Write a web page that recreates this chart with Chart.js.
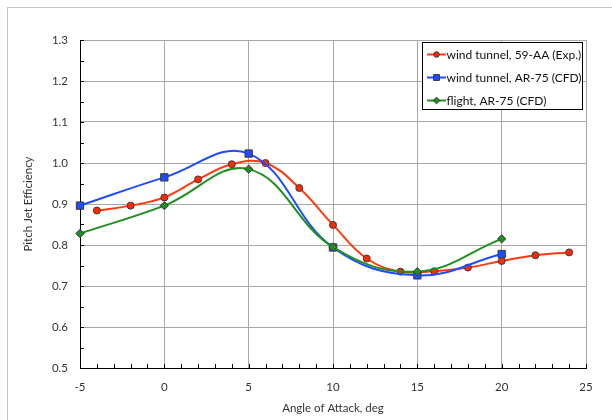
<!DOCTYPE html>
<html>
<head>
  <script src="https://cdn.jsdelivr.net/npm/chart.js"></script>
  <style>
    body { margin: 0; background: #fff; }
    #wrap { width: 612px; height: 420px; position: relative; }
  </style>
</head>
<body>
  <div id="wrap"><canvas id="jetChart" width="612" height="420"></canvas></div>
  <script>
    // data
    const expAngles = [-4, -2, 0, 2, 4, 6, 8, 10, 12, 14, 16, 18, 20, 22, 24];
    const expValues = [0.884, 0.896, 0.916, 0.960, 0.997, 1.000, 0.939, 0.849, 0.767, 0.735, 0.736, 0.745, 0.761, 0.775, 0.782];
    const cfdAngles = [-5, 0, 5, 10, 15, 20];
    const tunnelCfdValues = [0.896, 0.965, 1.023, 0.794, 0.726, 0.778];
    const flightCfdValues = [0.828, 0.896, 0.985, 0.795, 0.735, 0.815];
    const seriesNames = ['wind tunnel, 59-AA (Exp.)', 'wind tunnel, AR-75 (CFD)', 'flight, AR-75 (CFD)'];
    const xTickValues = [-5, 0, 5, 10, 15, 20, 25];
    const yTickValues = [0.5, 0.6, 0.7, 0.8, 0.9, 1.0, 1.1, 1.2, 1.3];

    const toPoints = (xs, ys) => xs.map((x, i) => ({ x: x, y: ys[i] }));
    const FONT = 'Lato';

    // light frame round the whole chart (runs off right/bottom like the original)
    const framePlugin = {
      id: 'frame',
      beforeDraw(chart) {
        const ctx = chart.ctx;
        ctx.save();
        ctx.strokeStyle = '#c4c4c4';
        ctx.lineWidth = 1;
        ctx.strokeRect(7.5, 7.5, 700, 500);
        ctx.restore();
      }
    };

    // small inward minor ticks on both axes
    const minorTicksPlugin = {
      id: 'minorTicks',
      beforeDatasetsDraw(chart) {
        const ctx = chart.ctx;
        const xs = chart.scales.x, ys = chart.scales.y;
        const area = chart.chartArea;
        ctx.save();
        ctx.strokeStyle = '#000';
        ctx.lineWidth = 1;
        ctx.beginPath();
        for (let v = -5; v <= 25; v++) {
          const px = Math.round(xs.getPixelForValue(v)) + 0.5;
          ctx.moveTo(px, area.bottom);
          ctx.lineTo(px, area.bottom - 4);
        }
        for (let k = 0; k <= 16; k++) {
          const py = Math.round(ys.getPixelForValue(0.5 + k * 0.05)) + 0.5;
          ctx.moveTo(area.left, py);
          ctx.lineTo(area.left + 4, py);
        }
        ctx.stroke();
        ctx.restore();
      }
    };

    // boxed legend inside the plot, top right
    const boxLegendPlugin = {
      id: 'boxLegend',
      afterDraw(chart) {
        const ctx = chart.ctx;
        const bx = 422.5, by = 42.5, bw = 160, bh = 67;
        ctx.save();
        ctx.fillStyle = '#fff';
        ctx.fillRect(bx, by, bw, bh);
        ctx.strokeStyle = '#000';
        ctx.lineWidth = 1;
        ctx.strokeRect(bx, by, bw, bh);
        chart.data.datasets.forEach((ds, i) => {
          const y = 54.5 + i * 23;
          ctx.strokeStyle = ds.borderColor;
          ctx.lineWidth = 2;
          ctx.beginPath();
          ctx.moveTo(427, y);
          ctx.lineTo(446, y);
          ctx.stroke();
          ctx.fillStyle = ds.pointBackgroundColor;
          ctx.strokeStyle = ds.pointBorderColor;
          ctx.lineWidth = 1;
          Chart.helpers.drawPoint(ctx, {
            pointStyle: ds.pointStyle,
            radius: ds.pointRadius * 0.8,
            rotation: 0,
            borderWidth: 1
          }, 436.5, y);
          ctx.fillStyle = '#111';
          ctx.font = '12px ' + FONT;
          ctx.textBaseline = 'middle';
          ctx.textAlign = 'left';
          ctx.fillText(ds.label, 446.5, y + 0.5);
        });
        ctx.restore();
      }
    };

    const lineDefaults = {
      showLine: true,
      tension: 0.4,
      borderWidth: 2,
      pointBorderWidth: 1,
      pointBorderColor: '#3a3a3a',
      pointHoverRadius: 4,
      clip: false
    };

    new Chart(document.getElementById('jetChart').getContext('2d'), {
      type: 'scatter',
      data: {
        datasets: [
          Object.assign({}, lineDefaults, {
            label: seriesNames[0],
            data: toPoints(expAngles, expValues),
            borderColor: '#ff3a10',
            pointBackgroundColor: '#ff2a00',
            pointStyle: 'circle',
            pointRadius: 3.5,
            order: 3
          }),
          Object.assign({}, lineDefaults, {
            label: seriesNames[1],
            data: toPoints(cfdAngles, tunnelCfdValues),
            borderColor: '#1f4cff',
            pointBackgroundColor: '#1f4cff',
            pointStyle: 'rect',
            pointRadius: 5.2,
            order: 2
          }),
          Object.assign({}, lineDefaults, {
            label: seriesNames[2],
            data: toPoints(cfdAngles, flightCfdValues),
            borderColor: '#1f8f1f',
            pointBackgroundColor: '#1f8f1f',
            pointStyle: 'rectRot',
            pointRadius: 4.2,
            order: 1
          })
        ]
      },
      options: {
        responsive: false,
        animation: false,
        layout: { padding: { top: 40, right: 26, left: 0, bottom: 0 } },
        plugins: {
          legend: { display: false },
          tooltip: { enabled: false }
        },
        scales: {
          x: {
            type: 'linear',
            min: -5,
            max: 25,
            afterBuildTicks: s => { s.ticks = xTickValues.map(v => ({ value: v })); },
            afterFit: s => { s.height = 52; },
            ticks: {
              padding: 12,
              color: '#333',
              font: { family: FONT, size: 11.5 },
              callback: v => String(v)
            },
            grid: { color: '#a8a8a8', lineWidth: 1, drawTicks: false },
            border: { color: '#000', width: 1 },
            title: {
              display: true,
              text: 'Angle of Attack, deg',
              color: '#333',
              font: { family: FONT, size: 11.5 },
              padding: { top: 0, bottom: 5 }
            }
          },
          y: {
            type: 'linear',
            min: 0.5,
            max: 1.3,
            afterBuildTicks: s => { s.ticks = yTickValues.map(v => ({ value: v })); },
            afterFit: s => { s.width = 80; },
            ticks: {
              padding: 12,
              color: '#333',
              font: { family: FONT, size: 11.5 },
              callback: v => Number(v).toFixed(1)
            },
            grid: { color: '#a8a8a8', lineWidth: 1, drawTicks: false },
            border: { color: '#000', width: 1 },
            title: {
              display: true,
              text: 'Pitch Jet Efficiency',
              color: '#333',
              font: { family: FONT, size: 11.5 },
              padding: { top: 21, bottom: 0 }
            }
          }
        }
      },
      plugins: [framePlugin, minorTicksPlugin, boxLegendPlugin]
    });
  </script>
</body>
</html>
